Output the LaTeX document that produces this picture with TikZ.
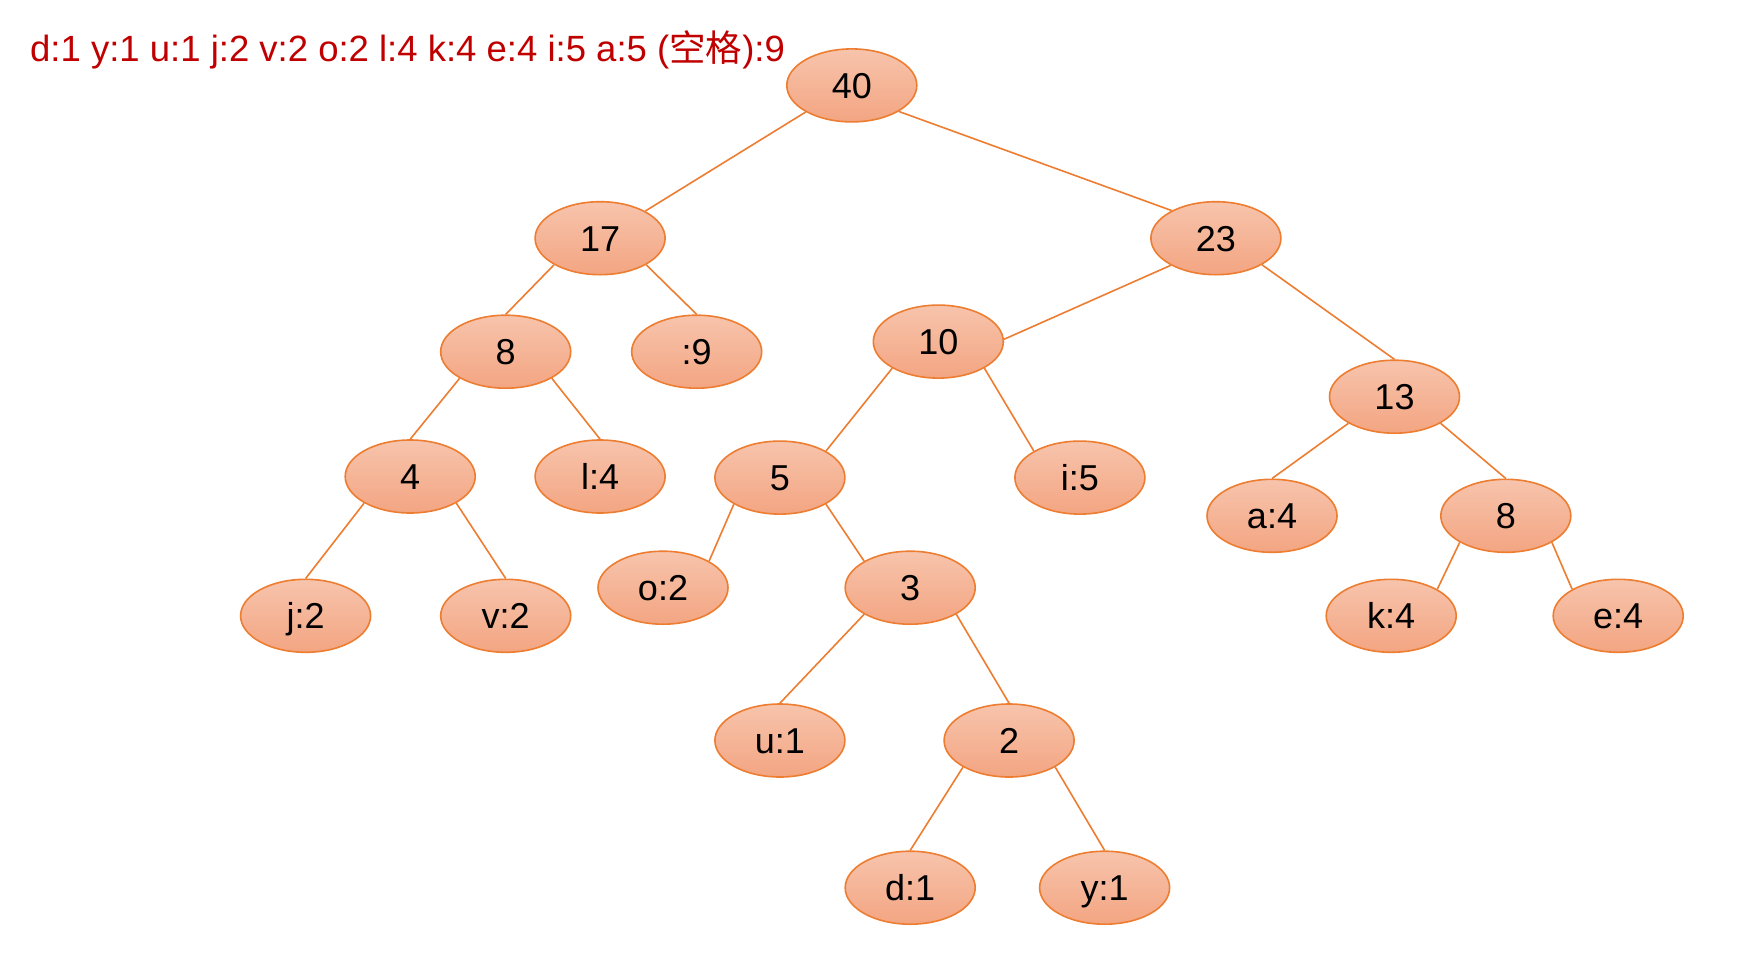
\documentclass[tikz,border=0pt]{standalone}
\usepackage{fontspec}
\setmainfont{Liberation Sans}
\newfontfamily\cjkfont{Noto Sans CJK SC}
\usetikzlibrary{shapes.geometric}
\definecolor{edgeorange}{RGB}{237,125,49}
\definecolor{filltop}{RGB}{247,196,172}
\definecolor{fillbot}{RGB}{243,165,130}
\definecolor{titlered}{RGB}{192,0,0}
\tikzset{
  tn/.style={ellipse, draw=edgeorange, line width=1.6pt,
    top color=filltop, bottom color=fillbot,
    minimum width=130pt, minimum height=73pt, inner sep=0pt,
    text height=33pt, text depth=7pt,
    font=\fontsize{36}{40}\selectfont},
  link/.style={draw=edgeorange, line width=1.6pt},
}
\begin{document}
\begin{tikzpicture}[x=1pt,y=-1pt]
\fill[white] (0,0) rectangle (1762,972);
\useasboundingbox (0,0) rectangle (1762,972);

% frequency list
\node[anchor=base west, inner sep=0pt, text=titlered, font=\fontsize{36.5}{40}\selectfont]
  (freq) at (30,61) {d:1 y:1 u:1 j:2 v:2 o:2 l:4 k:4 e:4 i:5 a:5 ({\cjkfont 空格}):9};

% tree nodes
\node[tn] (n40) at (851.8,85.4) {40};
\node[tn] (n17) at (600.1,238.2) {17};
\node[tn] (n23) at (1215.9,238.2) {23};
\node[tn] (n8a) at (505.7,351.7) {8};
\node[tn] (sp9) at (696.7,351.7) {:9};
\node[tn] (n10) at (938.3,341.6) {10};
\node[tn] (n13) at (1394.5,396.7) {13};
\node[tn] (n4) at (410.2,476.5) {4};
\node[tn] (l4) at (600.1,476.5) {l:4};
\node[tn] (n5) at (779.9,477.6) {5};
\node[tn] (i5) at (1079.9,477.6) {i:5};
\node[tn] (a4) at (1272.0,515.8) {a:4};
\node[tn] (n8b) at (1505.8,515.8) {8};
\node[tn] (j2) at (305.6,615.8) {j:2};
\node[tn] (v2) at (505.7,615.8) {v:2};
\node[tn] (o2) at (663.0,587.7) {o:2};
\node[tn] (n3) at (910.2,587.7) {3};
\node[tn] (k4) at (1391.2,615.8) {k:4};
\node[tn] (e4) at (1618.2,615.8) {e:4};
\node[tn] (u1) at (779.9,740.5) {u:1};
\node[tn] (n2) at (1009.1,740.5) {2};
\node[tn] (d1) at (910.2,887.7) {d:1};
\node[tn] (y1) at (1104.6,887.7) {y:1};

% branches
\draw[link] (n40.210) -- (n17.31);
\draw[link] (n40.331) -- (n23.148);
\draw[link] (n17.210) -- (n8a.north);
\draw[link] (n17.330) -- (sp9.north);
\draw[link] (n23.211) -- (n10.2);
\draw[link] (n23.330) -- (n13.north);
\draw[link] (n8a.210) -- (n4.north);
\draw[link] (n8a.330) -- (l4.north);
\draw[link] (n10.210) -- (n5.30);
\draw[link] (n10.330) -- (i5.150);
\draw[link] (n13.210) -- (a4.north);
\draw[link] (n13.330) -- (n8b.north);
\draw[link] (n4.210) -- (j2.north);
\draw[link] (n4.330) -- (v2.north);
\draw[link] (n5.210) -- (o2.30);
\draw[link] (n5.330) -- (n3.150);
\draw[link] (n8b.210) -- (k4.30);
\draw[link] (n8b.330) -- (e4.150);
\draw[link] (n3.210) -- (u1.north);
\draw[link] (n3.330) -- (n2.north);
\draw[link] (n2.210) -- (d1.north);
\draw[link] (n2.330) -- (y1.north);
\end{tikzpicture}
\end{document}
